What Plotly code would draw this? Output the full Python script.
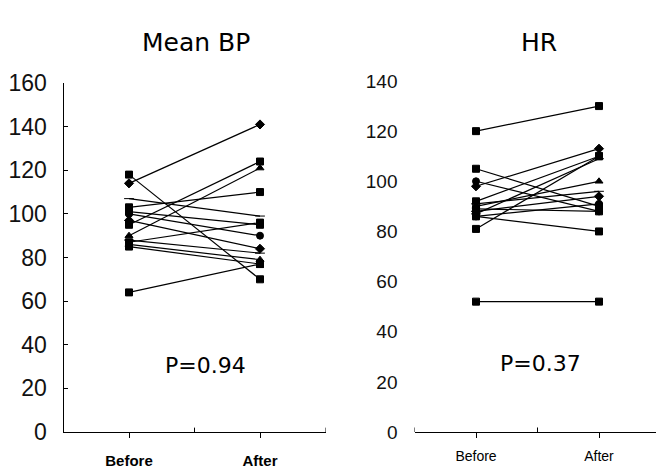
import plotly.graph_objects as go

categories = ["Before", "After"]

# Mean BP panel: (before, after) per subject
bp_before = [114, 118, 64, 95, 90, 103, 107, 87, 101, 100, 97, 88, 86, 85]
bp_after = [141, 70, 77, 124, 121, 110, 99, 96, 95, 90, 84, 82, 79, 77]
bp_markers = ["diamond", "square", "square", "square", "triangle-up", "square", "line-ew",
              "square", "square", "circle", "diamond", "line-ew", "triangle-up", "square"]

# HR panel
hr_before = [120, 105, 100, 98, 92, 91, 90, 88, 87, 86, 81, 86, 52, 89]
hr_after = [130, 90, 88, 113, 110, 96, 100, 94, 109, 91, 110, 80, 52, 88]
hr_markers = ["square", "square", "circle", "diamond", "square", "line-ew", "triangle-up",
              "diamond", "line-ew", "circle", "square", "square", "square", "square"]

bp_ticks = [0, 20, 40, 60, 80, 100, 120, 140, 160]
hr_ticks = [0, 20, 40, 60, 80, 100, 120, 140]

W, H = 664, 470
OFF = 8  # page body margin offset


def px(x):
    return (x - OFF) / W


def py(y):
    return 1 - (y - OFF) / H


fig = go.Figure()

for b, a, m in zip(bp_before, bp_after, bp_markers):
    fig.add_trace(go.Scatter(
        x=categories, y=[b, a], mode="lines+markers", xaxis="x", yaxis="y",
        line=dict(color="black", width=1.2),
        marker=dict(symbol=m, size=7, color="black", line=dict(color="black", width=1)),
        showlegend=False))

for b, a, m in zip(hr_before, hr_after, hr_markers):
    fig.add_trace(go.Scatter(
        x=categories, y=[b, a], mode="lines+markers", xaxis="x2", yaxis="y2",
        line=dict(color="black", width=1.2),
        marker=dict(symbol=m, size=7, color="black", line=dict(color="black", width=1)),
        showlegend=False))

fig.update_layout(
    width=W, height=H,
    margin=dict(l=0, r=0, t=0, b=0, autoexpand=False),
    paper_bgcolor="white", plot_bgcolor="white",
    xaxis=dict(domain=[px(63.5), px(325.5)], type="category", range=[-0.5, 1.5], automargin=False,
               showline=True, linecolor="black", linewidth=1.2,
               ticks="outside", ticklen=5, tickcolor="black", showgrid=False, zeroline=False,
               ticklabelstandoff=10,
               tickfont=dict(family="Liberation Sans, Arial, sans-serif", size=15,
                             color="black", weight="bold")),
    yaxis=dict(domain=[py(432), py(83)], range=[0, 160], tickvals=bp_ticks, automargin=False,
               showline=True, linecolor="black", linewidth=1.2,
               ticks="inside", ticklen=4, tickcolor="black", showgrid=False, zeroline=False,
               ticklabelstandoff=11,
               tickfont=dict(family="Liberation Sans, Arial, sans-serif", size=23, color="#111")),
    xaxis2=dict(domain=[px(414.5), px(660.5)], type="category", range=[-0.5, 1.5], anchor="y2",
                automargin=False,
                showline=True, linecolor="black", linewidth=1.2,
                ticks="outside", ticklen=5, tickcolor="black", showgrid=False, zeroline=False,
                ticklabelstandoff=6,
                tickfont=dict(family="Liberation Sans, Arial, sans-serif", size=14,
                              color="black")),
    yaxis2=dict(domain=[py(432), py(81)], range=[0, 140], tickvals=hr_ticks, anchor="x2",
                automargin=False, showline=False,
                ticks="", showgrid=False, zeroline=False,
                ticklabelstandoff=16,
                tickfont=dict(family="Liberation Sans, Arial, sans-serif", size=19, color="#111")),
)

# small inside ticks at category boundaries
for xr, yr, h in [("x", "y", 2.0), ("x2", "y2", 1.8)]:
    for xv in [-0.5, 0.5, 1.5]:
        fig.add_shape(type="line", xref=xr, yref=yr, x0=xv, x1=xv, y0=0, y1=h,
                      line=dict(color="black", width=1))

title_font = dict(family="DejaVu Sans, Verdana, sans-serif", size=25, color="black")
fig.add_annotation(text="Mean BP", xref="paper", yref="paper", x=px(196), y=py(42),
                   showarrow=False, font=title_font, xanchor="center", yanchor="middle")
fig.add_annotation(text="HR", xref="paper", yref="paper", x=px(539), y=py(42),
                   showarrow=False, font=title_font, xanchor="center", yanchor="middle")

p_font = dict(family="DejaVu Sans, Verdana, sans-serif", size=22, color="black")
fig.add_annotation(text="P=0.94", xref="paper", yref="paper", x=px(205), y=py(365),
                   showarrow=False, font=p_font, xanchor="center", yanchor="middle")
fig.add_annotation(text="P=0.37", xref="paper", yref="paper", x=px(540), y=py(363),
                   showarrow=False, font=p_font, xanchor="center", yanchor="middle")

fig.write_html("out.html")
